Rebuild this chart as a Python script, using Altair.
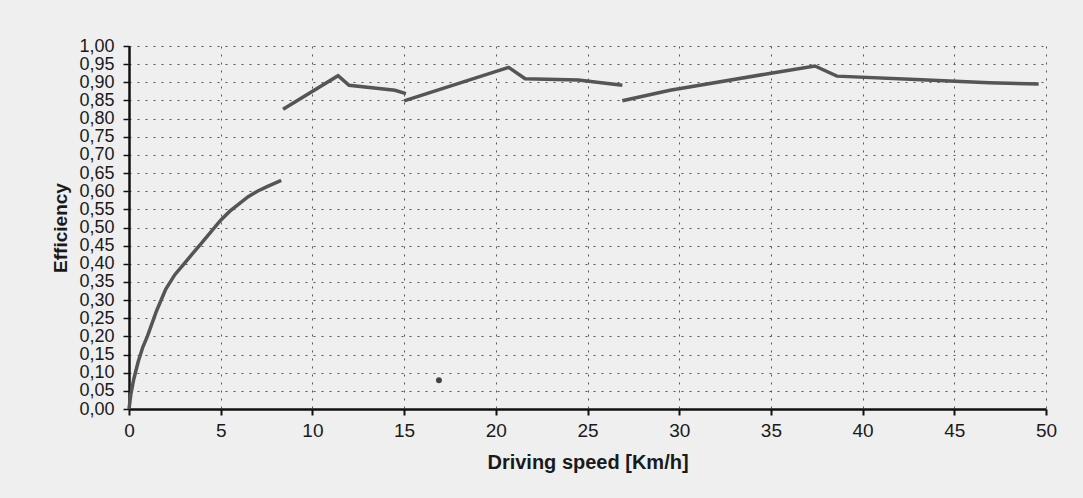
import altair as alt
import pandas as pd

# Segment 1
s1_x = [0, 0.1, 0.25, 0.5, 0.75, 1.0, 1.5, 2.0, 2.5, 3.0, 3.5, 4.0, 4.5, 5.0, 5.5, 6.0, 6.5, 7.0, 7.5, 8.3]
s1_y = [0.00, 0.04, 0.08, 0.13, 0.17, 0.20, 0.27, 0.33, 0.37, 0.40, 0.43, 0.46, 0.49, 0.52, 0.545, 0.565, 0.585, 0.60, 0.612, 0.63]
# Segment 2
s2_x = [8.4, 11.4, 12.0, 14.5, 15.1]
s2_y = [0.826, 0.918, 0.892, 0.878, 0.869]
# Segment 3
s3_x = [15.0, 20.7, 21.6, 24.5, 26.9]
s3_y = [0.849, 0.941, 0.910, 0.906, 0.892]
# Segment 4
s4_x = [26.9, 29.5, 35.0, 37.4, 38.6, 42.9, 46.9, 49.6]
s4_y = [0.849, 0.878, 0.925, 0.945, 0.917, 0.908, 0.899, 0.895]
# Stray point
pt_x = [16.9]
pt_y = [0.079]

rows = []
for seg, (xs_, ys_) in enumerate([(s1_x, s1_y), (s2_x, s2_y), (s3_x, s3_y), (s4_x, s4_y)]):
    for i, (a, b) in enumerate(zip(xs_, ys_)):
        rows.append({"seg": seg, "order": i, "speed": a, "eff": b})
df = pd.DataFrame(rows)
dp = pd.DataFrame({"speed": pt_x, "eff": pt_y})

x_ticks = list(range(0, 51, 5))
y_ticks = [round(i * 0.05, 2) for i in range(21)]

FONT = "Liberation Sans"

def xenc():
    return alt.X("speed:Q", scale=alt.Scale(domain=[0, 50], nice=False),
           axis=alt.Axis(values=x_ticks, title="Driving speed [Km/h]",
                         grid=True, gridDash=[2, 6], gridColor="#555555", gridWidth=1,
                         domainColor="#111111", domainWidth=2.5,
                         tickColor="#111111", tickWidth=2, tickSize=6,
                         labelFont=FONT, labelFontSize=19, labelColor="#1a1a1a",
                         labelPadding=6, labelFlush=False,
                         titleFont=FONT, titleFontSize=20, titleFontWeight="bold",
                         titleColor="#1a1a1a", titlePadding=12))

def yenc():
    return alt.Y("eff:Q", scale=alt.Scale(domain=[0, 1], nice=False),
           axis=alt.Axis(values=y_ticks, title="Efficiency",
                         labelExpr="replace(format(datum.value, '.2f'), '.', ',')",
                         grid=True, gridDash=[2, 6], gridColor="#555555", gridWidth=1,
                         domainColor="#111111", domainWidth=2.5,
                         tickColor="#111111", tickWidth=1.5, tickSize=6,
                         labelFont=FONT, labelFontSize=18, labelColor="#1a1a1a",
                         labelPadding=9, labelFlush=False, labelOverlap=False,
                         titleFont=FONT, titleFontSize=19, titleFontWeight="bold",
                         titleColor="#1a1a1a", titlePadding=8))

lines = alt.Chart(df).mark_line(color="#555555", strokeWidth=3.5).encode(
    x=xenc(), y=yenc(), detail="seg:N", order="order:Q")
point = alt.Chart(dp).mark_circle(color="#444444", size=35, opacity=1).encode(
    x=xenc(), y=yenc())

chart = alt.layer(lines, point).properties(
    width=917, height=363,
    background="#efefef",
    autosize=alt.AutoSizeParams(type="none"),
    padding={"left": 129, "top": 46, "right": 37, "bottom": 89},
).configure_view(stroke=None)

chart.save("out.html", embed_options={"renderer": "svg", "actions": False})
